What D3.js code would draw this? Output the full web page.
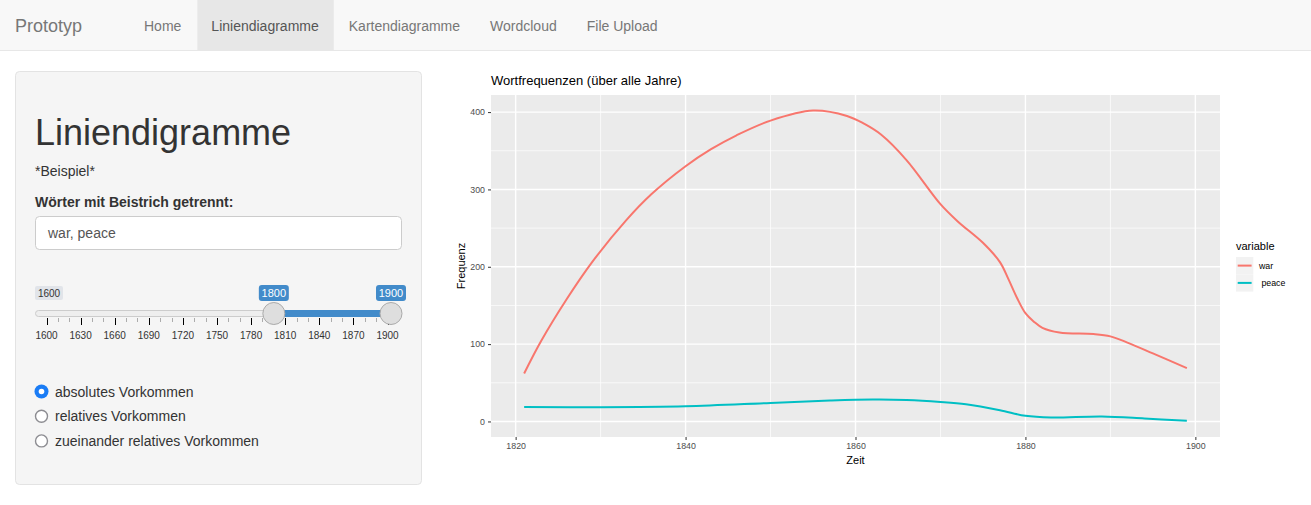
<!DOCTYPE html>
<html>
<head>
<meta charset="utf-8">
<script src="https://cdn.jsdelivr.net/npm/d3@7"></script>
<style>
  body { margin: 0; background: #fff; font-family: "Liberation Sans", Arial, sans-serif; }
  svg text { font-family: "Liberation Sans", Arial, sans-serif; }
  .leg text { white-space: pre; }
</style>
</head>
<body>
<svg id="page" width="1311" height="505"></svg>
<script>
// navbar
const brand = "Prototyp";
const navItems = ["Home", "Liniendiagramme", "Kartendiagramme", "Wordcloud", "File Upload"];
const activeNav = "Liniendiagramme";

// sidebar content
const sideTitle = "Liniendigramme";
const sideNote = "*Beispiel*";
const inputLabel = "Wörter mit Beistrich getrennt:";
const inputValue = "war, peace";
const sliderMin = 1600, sliderMax = 1900;
const sliderFrom = 1800, sliderTo = 1900;
const sliderGrid = [1600, 1630, 1660, 1690, 1720, 1750, 1780, 1810, 1840, 1870, 1900];
const radioOptions = ["absolutes Vorkommen", "relatives Vorkommen", "zueinander relatives Vorkommen"];
const radioSelected = 0;

// chart data
const chartTitle = "Wortfrequenzen (über alle Jahre)";
const xLabel = "Zeit", yLabel = "Frequenz";
const legendTitle = "variable";
const seriesNames = ["war", " peace"];
const seriesColors = ["#F8766D", "#00BFC4"];
const warYears = [1821, 1823, 1826, 1829, 1833, 1836, 1840, 1843, 1846, 1850, 1855, 1859, 1861, 1863, 1866, 1870, 1872, 1875, 1877, 1878, 1879, 1880, 1881, 1882, 1884, 1888, 1890, 1892, 1895, 1899];
const warValues = [62, 104, 158, 206, 260, 294, 330, 352, 370, 389, 402, 395, 385, 371, 338, 281, 259, 231, 206, 184, 160, 140, 129, 121, 115, 113, 110, 102, 88, 69];
const peaceYears = [1821, 1830, 1840, 1850, 1857, 1862, 1866, 1870, 1873, 1877, 1880, 1883, 1889, 1894, 1899];
const peaceValues = [18.8, 18.5, 19.7, 24, 27, 28.3, 27.8, 25.3, 22.3, 14.6, 7.3, 5.1, 6.4, 3.9, 0.8];
const xTicks = [1820, 1840, 1860, 1880, 1900];
const xMinor = [1830, 1850, 1870, 1890];
const yTicks = [0, 100, 200, 300, 400];
const yMinor = [50, 150, 250, 350];

const svg = d3.select("#page");

// ---- navbar
svg.append("rect").attr("x", 0).attr("y", 0).attr("width", 1311).attr("height", 50).attr("fill", "#f8f8f8");
svg.append("line").attr("x1", 0).attr("x2", 1311).attr("y1", 50.5).attr("y2", 50.5).attr("stroke", "#e7e7e7");
svg.append("text").attr("x", 15).attr("y", 32).text(brand).style("font-size", "18px").attr("fill", "#777");

let nx = 129;
navItems.forEach(function(item) {
    let g = svg.append("g");
    let t = g.append("text").attr("x", nx + 15).attr("y", 31).text(item)
        .style("font-size", "14px").attr("fill", item === activeNav ? "#555" : "#777");
    let w = t.node().getComputedTextLength();
    if (item === activeNav) {
        g.insert("rect", "text").attr("x", nx + 1).attr("y", 0).attr("width", w + 29).attr("height", 50).attr("fill", "#e7e7e7");
    }
    nx += w + 30;
});

// ---- sidebar well
svg.append("rect").attr("x", 15.5).attr("y", 71.5).attr("width", 406).attr("height", 413).attr("rx", 4)
    .attr("fill", "#f5f5f5").attr("stroke", "#e3e3e3");
svg.append("text").attr("x", 35).attr("y", 145).text(sideTitle).style("font-size", "36px").attr("fill", "#333");
svg.append("text").attr("x", 35).attr("y", 176).text(sideNote).style("font-size", "14px").attr("fill", "#333");
svg.append("text").attr("x", 35).attr("y", 207).text(inputLabel).style("font-size", "14px").style("font-weight", "bold").attr("fill", "#333");
svg.append("rect").attr("x", 35.5).attr("y", 216.5).attr("width", 366).attr("height", 33).attr("rx", 4)
    .attr("fill", "#fff").attr("stroke", "#ccc");
svg.append("text").attr("x", 48).attr("y", 238).text(inputValue).style("font-size", "14px").attr("fill", "#555");

// ---- range slider
const sx = d3.scaleLinear().domain([sliderMin, sliderMax]).range([46.5, 387.5]);
svg.append("rect").attr("x", 35.5).attr("y", 310.5).attr("width", 355).attr("height", 6).attr("rx", 3)
    .attr("fill", "#eee").attr("stroke", "#ccc");
svg.append("rect").attr("x", sx(sliderFrom)).attr("y", 310).attr("width", sx(sliderTo) + 3 - sx(sliderFrom)).attr("height", 7)
    .attr("fill", "#428bca");
// grid ticks
d3.range(sliderMin, sliderMax + 1, 10).forEach(function(v) {
    let major = sliderGrid.includes(v);
    svg.append("line").attr("x1", Math.round(sx(v)) + 0.5).attr("x2", Math.round(sx(v)) + 0.5)
        .attr("y1", 318).attr("y2", major ? 325 : 322)
        .attr("stroke", major ? "#000" : "#999").attr("stroke-width", major ? 1 : 0.8);
});
svg.selectAll(".sgrid").data(sliderGrid).enter().append("text")
    .attr("x", d => sx(d)).attr("y", 339).attr("text-anchor", "middle")
    .text(d => d).style("font-size", "10px").attr("fill", "#333");
// min label
svg.append("rect").attr("x", 35).attr("y", 286).attr("width", 28).attr("height", 14).attr("rx", 2).attr("fill", "#e1e4e9");
svg.append("text").attr("x", 49).attr("y", 297).attr("text-anchor", "middle").text(sliderMin)
    .style("font-size", "10px").attr("fill", "#333");
// handles + value labels
[[sliderFrom, sx(sliderFrom)], [sliderTo, sx(sliderTo) + 3.5]].forEach(function(h) {
    svg.append("rect").attr("x", h[1] - 15).attr("y", 285).attr("width", 30).attr("height", 16).attr("rx", 3).attr("fill", "#428bca");
    svg.append("text").attr("x", h[1]).attr("y", 297).attr("text-anchor", "middle").text(h[0])
        .style("font-size", "11px").attr("fill", "#fff");
    svg.append("circle").attr("cx", h[1]).attr("cy", 313.5).attr("r", 11)
        .attr("fill", "#dedede").attr("stroke", "#aaa");
});

// ---- radio buttons
radioOptions.forEach(function(opt, i) {
    let cy = 391.5 + i * 24.7;
    if (i === radioSelected) {
        svg.append("circle").attr("cx", 41.5).attr("cy", cy).attr("r", 7).attr("fill", "#1a7cf5");
        svg.append("circle").attr("cx", 41.5).attr("cy", cy).attr("r", 2.8).attr("fill", "#fff");
    } else {
        svg.append("circle").attr("cx", 41.5).attr("cy", cy).attr("r", 6).attr("fill", "#fff")
            .attr("stroke", "#8d8d92").attr("stroke-width", 1.4);
    }
    svg.append("text").attr("x", 55).attr("y", cy + 5).text(opt).style("font-size", "14px").attr("fill", "#333");
});

// ---- chart
const panel = {left: 491, right: 1220, top: 95, bottom: 437};
const x = d3.scaleLinear().domain([1817.1, 1902.9]).range([panel.left, panel.right]);
const y = d3.scaleLinear().domain([-20.1, 422.1]).range([panel.bottom, panel.top]);

svg.append("rect").attr("x", panel.left).attr("y", panel.top)
    .attr("width", panel.right - panel.left).attr("height", panel.bottom - panel.top).attr("fill", "#ebebeb");

const grid = svg.append("g");
grid.selectAll(".ymin").data(yMinor).enter().append("line")
    .attr("x1", panel.left).attr("x2", panel.right).attr("y1", d => y(d)).attr("y2", d => y(d))
    .attr("stroke", "#fff").attr("stroke-width", 0.7);
grid.selectAll(".xmin").data(xMinor).enter().append("line")
    .attr("y1", panel.top).attr("y2", panel.bottom).attr("x1", d => x(d)).attr("x2", d => x(d))
    .attr("stroke", "#fff").attr("stroke-width", 0.7);
grid.selectAll(".ymaj").data(yTicks).enter().append("line")
    .attr("x1", panel.left).attr("x2", panel.right).attr("y1", d => y(d)).attr("y2", d => y(d))
    .attr("stroke", "#fff").attr("stroke-width", 1.4);
grid.selectAll(".xmaj").data(xTicks).enter().append("line")
    .attr("y1", panel.top).attr("y2", panel.bottom).attr("x1", d => x(d)).attr("x2", d => x(d))
    .attr("stroke", "#fff").attr("stroke-width", 1.4);

const line = d3.line().x(d => x(d[0])).y(d => y(d[1])).curve(d3.curveCatmullRom.alpha(0.5));
const series = [d3.zip(warYears, warValues), d3.zip(peaceYears, peaceValues)];
series.forEach(function(s, i) {
    svg.append("path").datum(s).attr("d", line).attr("fill", "none")
        .attr("stroke", seriesColors[i]).attr("stroke-width", 2);
});

// axes
let x_axis = d3.axisBottom(x).tickValues(xTicks).tickSize(3).tickPadding(3).tickFormat(d3.format("d"));
let y_axis = d3.axisLeft(y).tickValues(yTicks).tickSize(3).tickPadding(3);
let gx = svg.append("g").attr("transform", `translate(0,${panel.bottom})`).call(x_axis);
let gy = svg.append("g").attr("transform", `translate(${panel.left},0)`).call(y_axis);
[gx, gy].forEach(function(g) {
    g.select(".domain").remove();
    g.selectAll(".tick line").attr("stroke", "#333");
    g.selectAll(".tick text").attr("fill", "#4d4d4d").style("font-size", "8.8px");
});

svg.append("text").attr("x", (panel.left + panel.right) / 2).attr("y", 464).attr("text-anchor", "middle")
    .text(xLabel).style("font-size", "11px").attr("fill", "#000");
svg.append("text").attr("transform", `translate(465,${(panel.top + panel.bottom) / 2}) rotate(-90)`)
    .attr("text-anchor", "middle").text(yLabel).style("font-size", "11px").attr("fill", "#000");
svg.append("text").attr("x", panel.left).attr("y", 85).text(chartTitle).style("font-size", "13px").attr("fill", "#000");

// legend
const leg = svg.append("g").attr("class", "leg");
leg.append("text").attr("x", 1236).attr("y", 250).text(legendTitle).style("font-size", "11px").attr("fill", "#000");
seriesNames.forEach(function(n, i) {
    let ky = 257 + i * 17.3;
    leg.append("rect").attr("x", 1236).attr("y", ky).attr("width", 17.3).attr("height", 17.3).attr("fill", "#f2f2f2");
    leg.append("line").attr("x1", 1237.7).attr("x2", 1251.6).attr("y1", ky + 8.6).attr("y2", ky + 8.6)
        .attr("stroke", seriesColors[i]).attr("stroke-width", 2);
    leg.append("text").attr("x", 1259).attr("y", ky + 11.7).text(n).style("font-size", "8.8px").attr("fill", "#000");
});
</script>
</body>
</html>
